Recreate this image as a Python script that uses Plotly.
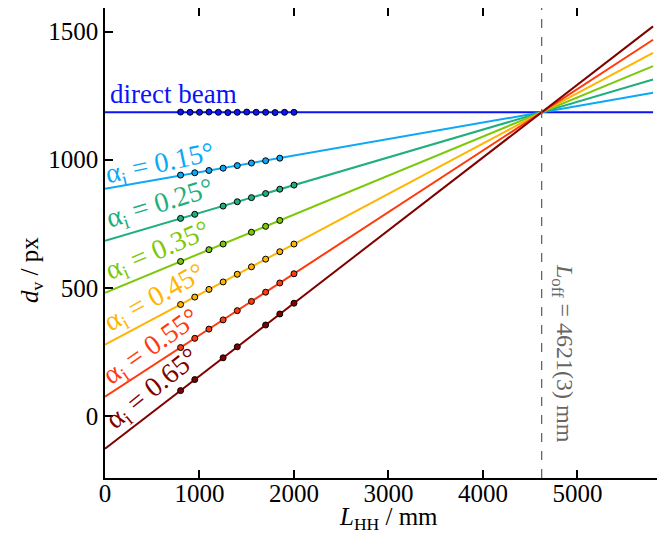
import numpy as np
import plotly.graph_objects as go

# ---------------- data ----------------
series_names = ["direct beam", "0.15", "0.25", "0.35", "0.45", "0.55", "0.65"]
colors = ["#0a14f5", "#0aa8f5", "#1eaf7c", "#7cc80a", "#ffb400", "#ff3a0c", "#800000"]

x_direct = [800, 900, 1000, 1100, 1200, 1300, 1400, 1500, 1600, 1700, 1800, 1900, 2000]
y_direct = [1186, 1185, 1185, 1186, 1185, 1184, 1185, 1186, 1185, 1185, 1184, 1185, 1185]

x_015 = [800, 950, 1100, 1250, 1400, 1550, 1700, 1850]
y_015 = [940, 949, 958, 967, 977, 987, 996, 1006]

x_025 = [800, 950, 1250, 1400, 1550, 1700, 1850, 2000]
y_025 = [771, 787, 819, 836, 852, 868, 885, 901]

x_035 = [800, 1100, 1250, 1550, 1700, 1850]
y_035 = [603, 649, 671, 717, 740, 763]

x_045 = [800, 950, 1100, 1250, 1400, 1550, 1700, 1850, 2000]
y_045 = [435, 464, 494, 523, 553, 582, 612, 641, 671]

x_055 = [800, 950, 1100, 1250, 1400, 1550, 1700, 1850, 2000]
y_055 = [267, 303, 339, 375, 411, 447, 483, 519, 555]

x_065 = [800, 950, 1250, 1400, 1700, 1850, 2000]
y_065 = [99, 142, 227, 270, 355, 398, 440]

# global fit results (intercept in px, slope in px/mm)
fit_intercepts = [1185, 887, 684, 481, 278, 75, -128]
fit_slopes = [0.0, 0.0645, 0.1084, 0.1524, 0.1963, 0.2402, 0.2842]
fit_x_range = [0, 5800]

L_off = 4621
x_ticks = [0, 1000, 2000, 3000, 4000, 5000]
y_ticks = [0, 500, 1000, 1500]

xs = [x_direct, x_015, x_025, x_035, x_045, x_055, x_065]
ys = [y_direct, y_015, y_025, y_035, y_045, y_055, y_065]

FONT = "Liberation Serif"

fig = go.Figure()

# fit lines
for i in range(len(series_names)):
    xl = np.array(fit_x_range, dtype=float)
    yl = fit_intercepts[i] + fit_slopes[i] * xl
    fig.add_trace(go.Scatter(x=xl, y=yl, mode="lines",
                             line=dict(color=colors[i], width=2),
                             showlegend=False, hoverinfo="skip"))

# data points
for i in range(len(series_names)):
    fig.add_trace(go.Scatter(x=xs[i], y=ys[i], mode="markers",
                             marker=dict(color=colors[i], size=6,
                                         line=dict(color="black", width=1)),
                             showlegend=False))

# dashed offset line
fig.add_shape(type="line", x0=L_off, x1=L_off, y0=0, y1=1, yref="paper",
              line=dict(color="#666666", width=1.3, dash="dash"))

# labels
fig.add_annotation(x=32, y=1258, text="direct beam", showarrow=False,
                   xanchor="left", yanchor="middle",
                   font=dict(family=FONT, size=27, color=colors[0]))

label_pos = [(582, 982, -12), (582, 826, -17), (561, 642, -23),
             (529, 458, -29), (497, 266, -35), (508, 103, -39)]
for k, (lx, ly, ang) in enumerate(label_pos):
    fig.add_annotation(x=lx, y=ly, text="α<sub>i</sub> = %s°" % series_names[k + 1],
                       showarrow=False, textangle=ang,
                       xanchor="center", yanchor="middle",
                       font=dict(family=FONT, size=28, color=colors[k + 1]))

fig.add_annotation(x=4847, y=246,
                   text="<i>L</i><sub>off</sub> = %d(3) mm" % L_off,
                   showarrow=False, textangle=90,
                   xanchor="center", yanchor="middle",
                   font=dict(family=FONT, size=24, color="#666666"))

# axis titles
fig.add_annotation(x=0.5045, y=-0.087, xref="paper", yref="paper",
                   text="<i>L</i><sub>HH</sub> / mm", showarrow=False,
                   xanchor="center", yanchor="middle",
                   font=dict(family=FONT, size=25, color="black"))
fig.add_annotation(x=-0.130, y=0.4426, xref="paper", yref="paper",
                   text="<i>d</i><sub>v</sub> / px", showarrow=False,
                   textangle=-90, xanchor="center", yanchor="middle",
                   font=dict(family=FONT, size=25, color="black"))

axis_common = dict(showline=True, linecolor="black", linewidth=1.6,
                   mirror="ticks", ticks="inside", ticklen=8, tickwidth=1.5,
                   tickcolor="black", showgrid=False, zeroline=False,
                   automargin=False,
                   tickfont=dict(family=FONT, size=25, color="black"))

fig.update_xaxes(range=[0, 5937], tickvals=x_ticks, ticklabelstandoff=-8,
                 **axis_common)
fig.update_yaxes(range=[-242, 1592], tickvals=y_ticks, **axis_common)

fig.update_layout(width=665, height=536,
                  margin=dict(l=97, r=7, t=0, b=66, autoexpand=False),
                  plot_bgcolor="white", paper_bgcolor="white",
                  font=dict(family=FONT))

fig.write_html("out.html")
